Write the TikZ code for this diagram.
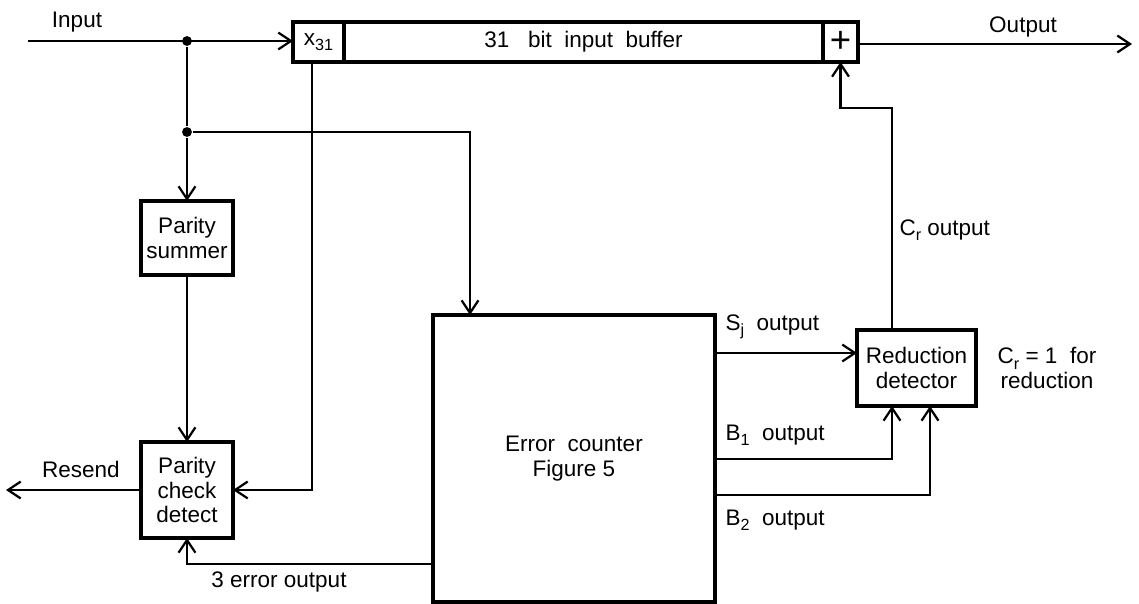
\documentclass[tikz,border=0pt]{standalone}
\usepackage{fontspec}
\setmainfont{Liberation Sans}
\usetikzlibrary{arrows.meta,positioning}
\newcommand{\lowidx}[1]{\raisebox{-0.45ex}{\fontsize{11.5}{11.5}\selectfont #1}}

\begin{document}
\begin{tikzpicture}[x=0.025cm,y=-0.025cm,>={Straight Barb[length=9pt,width=12pt,line width=1.6pt]},line width=1.6pt,
  blk/.style={draw,line width=2.4pt,inner sep=0pt,outer sep=0pt,align=center,font=\fontsize{16}{17.5}\selectfont},
  lbl/.style={font=\fontsize{16}{17.5}\selectfont,inner sep=1pt},
  dot/.style={circle,fill,inner sep=0pt,minimum size=7pt}]
\useasboundingbox (0,0) rectangle (1139,604);
% blocks
\node[blk,minimum width=1.275cm,minimum height=1cm] (xcell) at (318.5,42) {x\lowidx{31}};
\node[blk,minimum width=11.975cm,minimum height=1cm] (buf) at (583.5,42) {31\ \ \ bit\ \ input\ \ buffer};
\node[blk,minimum width=0.875cm,minimum height=1cm,font=\fontsize{26}{26}\selectfont] (plus) at (840.5,42) {+};
\node[blk,minimum width=2.3cm,minimum height=1.85cm] (psum) at (187,238) {Parity\\summer};
\node[blk,minimum width=2.3cm,minimum height=2.4cm] (pcd) at (187,490) {Parity\\check\\detect};
\node[blk,minimum width=7.05cm,minimum height=7.175cm] (ec) at (574,458.5) {Error\ \ counter\\Figure 5};
\node[blk,minimum width=2.975cm,minimum height=1.9cm] (red) at (916.5,368) {Reduction\\detector};
% junctions and line ends
\node[dot] (d1) at (187,41) {};
\node[dot] (d2) at (187,132) {};
\coordinate (in) at (28,41);
\coordinate (out) at (1132,44);
\coordinate (rs) at (6,490);
\coordinate (xs) at (312,62);
\coordinate (ectop) at (470,315);
\coordinate (e3) at (433,564);
\coordinate (sj) at (715,353);
\coordinate (b1) at (715,459);
\coordinate (b2) at (715,495);
\coordinate (r1) at (892,406);
\coordinate (r2) at (930,406);
\coordinate (cr) at (892,330);
% connectors
\draw[->] (in) -- (in -| xcell.west);
\draw (d1) -- (d2);
\draw[->] (d2) -- (psum.north);
\draw[->] (d2) -| (ectop);
\draw[->] (psum.south) -- (pcd.north);
\draw[->] (xs) |- (pcd.east);
\draw[->] (pcd.west) -- (rs);
\draw[->] (e3) -| (pcd.south);
\draw[->] (sj) -- (sj -| red.west);
\draw[->] (b1) -| (r1);
\draw[->] (b2) -| (r2);
\draw[->] (cr) -- (892,108) -| (plus.south);
\draw[->] (plus.east |- out) -- (out);
% labels
\node[lbl] at (77,22) {Input};
\node[lbl] at (1023,27) {Output};
\node[lbl,anchor=west] at (897,230) {C\lowidx{r} output};
\node[lbl,anchor=west] at (723,327) {S\lowidx{j}\ \ output};
\node[lbl,anchor=west] at (723,435) {B\lowidx{1}\ \ output};
\node[lbl,anchor=west] at (723,520) {B\lowidx{2}\ \ output};
\node[lbl,align=center] at (1047,368) {C\lowidx{r} = 1\ \ for\\reduction};
\node[lbl] at (81,469) {Resend};
\node[lbl] at (279,582) {3 error output};
\end{tikzpicture}
\end{document}
